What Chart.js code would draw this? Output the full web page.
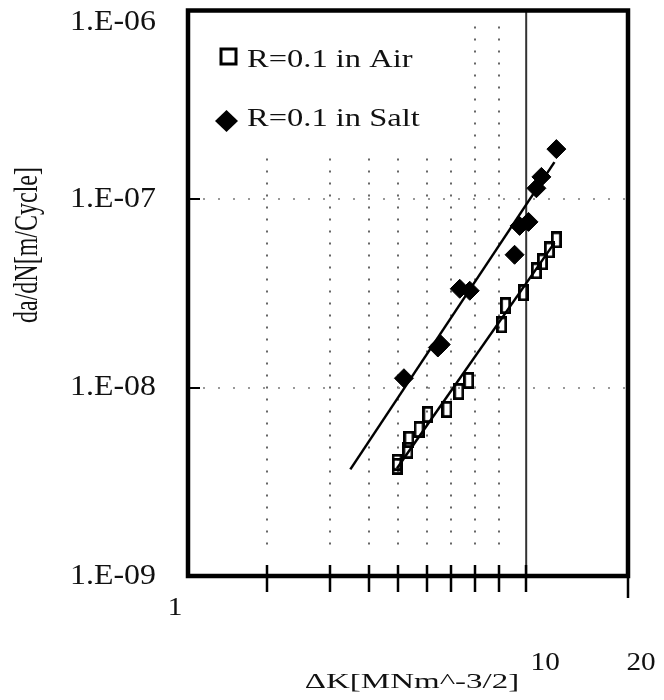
<!DOCTYPE html>
<html>
<head>
<meta charset="utf-8">
<script src="https://cdn.jsdelivr.net/npm/chart.js@4.4.0/dist/chart.umd.min.js"></script>
<style>
  html, body { margin: 0; padding: 0; background: #fff; overflow: hidden; }
  canvas { display: block; }
</style>
</head>
<body>
<canvas id="chart" width="664" height="700"></canvas>
<script>
// da/dN vs delta K, R = 0.1, air and salt water
const airDeltaK = [4.15, 4.15, 4.47, 4.50, 4.82, 5.12, 5.83, 6.32, 6.76, 8.46, 8.69, 9.82, 10.72, 11.17, 11.71, 12.28];
const airRate = [3.82e-9, 4.01e-9, 4.64e-9, 5.31e-9, 5.99e-9, 7.20e-9, 7.65e-9, 9.52e-9, 1.09e-8, 2.15e-8, 2.72e-8, 3.18e-8, 4.16e-8, 4.64e-8, 5.37e-8, 6.07e-8];
const saltDeltaK = [4.35, 5.48, 5.59, 6.36, 6.81, 9.24, 9.56, 10.16, 10.72, 11.09, 12.28];
const saltRate = [1.12e-8, 1.63e-8, 1.69e-8, 3.34e-8, 3.26e-8, 5.06e-8, 7.20e-8, 7.56e-8, 1.14e-7, 1.31e-7, 1.84e-7];

// fitted lines, end points only
const airFitK = [4.15, 12.12];
const airFitRate = [3.73e-9, 5.85e-8];
const saltFitK = [3.02, 12.12];
const saltFitRate = [3.68e-9, 1.57e-7];

const xLabelValues = [1, 10, 20];
const xMinorTicks = [1.71, 2.63, 3.43, 4.18, 5.09, 5.99, 7.06, 8.31];
const xMajorLine = 10;
const yTicks = [1e-6, 1e-7, 1e-8, 1e-9];
const yTickLabels = ['1.E-06', '1.E-07', '1.E-08', '1.E-09'];
const yGridLines = [1e-7, 1e-8];
const seriesNames = ['R=0.1 in Air', 'R=0.1 in Salt'];
const xTitle = 'ΔK[MNm^-3/2]';
const yTitle = 'da/dN[m/Cycle]';

const SERIF = '"Liberation Serif", "Times New Roman", serif';

// open tall rectangle used as the air marker
function rectMarker(w, h, lw) {
  const c = document.createElement('canvas');
  c.width = w; c.height = h;
  const g = c.getContext('2d');
  g.strokeStyle = '#000';
  g.lineWidth = lw;
  g.strokeRect(lw / 2, lw / 2, w - lw, h - lw);
  return c;
}

// serif text, widened by sx
function wideText(ctx, text, x, y, align, size, sx) {
  ctx.save();
  ctx.translate(x, y);
  ctx.scale(sx, 1);
  ctx.font = size + 'px ' + SERIF;
  ctx.textAlign = align;
  ctx.textBaseline = 'middle';
  ctx.fillStyle = '#111';
  ctx.fillText(text, 0, 0);
  ctx.restore();
}

const decorations = {
  id: 'decorations',
  beforeDatasetsDraw(chart) {
    const { ctx, chartArea: a, scales: { x, y } } = chart;
    ctx.save();
    // dotted verticals
    ctx.strokeStyle = '#666';
    ctx.lineWidth = 2;
    ctx.setLineDash([2, 10]);
    xMinorTicks.forEach(v => {
      const px = Math.round(x.getPixelForValue(v));
      ctx.beginPath();
      ctx.moveTo(px, a.top + 16);
      ctx.lineTo(px, a.bottom - 23);
      ctx.stroke();
    });
    // dotted horizontals
    ctx.strokeStyle = '#999';
    ctx.setLineDash([2, 13]);
    yGridLines.forEach(v => {
      const py = Math.round(y.getPixelForValue(v));
      ctx.beginPath();
      ctx.moveTo(a.left, py);
      ctx.lineTo(a.right, py);
      ctx.stroke();
    });
    ctx.setLineDash([]);

    // legend panel
    ctx.fillStyle = '#fff';
    ctx.fillRect(a.left + 2, a.top + 2, 266, 145);
    ctx.strokeStyle = '#000';
    ctx.lineWidth = 3;
    ctx.strokeRect(221, 49, 15, 15);
    ctx.fillStyle = '#000';
    ctx.beginPath();
    ctx.moveTo(215, 121);
    ctx.lineTo(226.5, 110);
    ctx.lineTo(238, 121);
    ctx.lineTo(226.5, 132);
    ctx.closePath();
    ctx.fill();
    wideText(ctx, seriesNames[0], 247, 60, 'left', 26, 1.25);
    wideText(ctx, seriesNames[1], 247, 119, 'left', 26, 1.25);

    // solid line at delta K = 10
    const p10 = x.getPixelForValue(xMajorLine);
    ctx.strokeStyle = '#333';
    ctx.lineWidth = 2;
    ctx.beginPath();
    ctx.moveTo(p10, a.top);
    ctx.lineTo(p10, a.bottom);
    ctx.stroke();
    ctx.restore();
  },
  afterDatasetsDraw(chart) {
    const { ctx, chartArea: a, scales: { x, y } } = chart;
    ctx.save();
    ctx.strokeStyle = '#000';
    // x ticks crossing the bottom edge
    ctx.lineWidth = 2.5;
    xMinorTicks.concat([xMajorLine]).forEach(v => {
      const px = Math.round(x.getPixelForValue(v));
      ctx.beginPath();
      ctx.moveTo(px, a.bottom - 11);
      ctx.lineTo(px, a.bottom + 16);
      ctx.stroke();
    });
    ctx.beginPath();
    ctx.moveTo(a.right, a.bottom);
    ctx.lineTo(a.right, a.bottom + 22);
    ctx.stroke();
    // short inner ticks on the y axis
    ctx.lineWidth = 2;
    yGridLines.forEach(v => {
      const py = Math.round(y.getPixelForValue(v));
      ctx.beginPath();
      ctx.moveTo(a.left, py);
      ctx.lineTo(a.left + 12, py);
      ctx.stroke();
    });
    // frame
    ctx.lineWidth = 4.5;
    ctx.strokeRect(a.left, a.top, a.right - a.left, a.bottom - a.top);

    // y tick labels
    yTicks.forEach((v, i) => {
      const py = Math.max(y.getPixelForValue(v), a.top + 12);
      wideText(ctx, yTickLabels[i], 156, py, 'right', 29, 1.1);
    });
    // x tick labels, set off from their ticks
    const shift = { 1: [-13, 32], 10: [19, 87], 20: [13, 87] };
    xLabelValues.forEach(v => {
      const [dx, dy] = shift[v];
      wideText(ctx, String(v), x.getPixelForValue(v) + dx, a.bottom + dy, 'center', 25, 1.17);
    });
    // axis titles
    wideText(ctx, xTitle, 412, 682, 'center', 22, 1.5);
    ctx.save();
    ctx.translate(28, 245);
    ctx.scale(1.4, 1);
    ctx.rotate(-Math.PI / 2);
    ctx.font = '24px ' + SERIF;
    ctx.textAlign = 'center';
    ctx.textBaseline = 'middle';
    ctx.fillStyle = '#111';
    ctx.fillText(yTitle, 0, 0);
    ctx.restore();
    ctx.restore();
  }
};

const toPoints = (xs, ys) => xs.map((v, i) => ({ x: v, y: ys[i] }));

new Chart(document.getElementById('chart'), {
  type: 'scatter',
  data: {
    datasets: [
      {
        label: seriesNames[1],
        data: toPoints(saltDeltaK, saltRate),
        pointStyle: 'rectRot',
        pointRadius: 9.5,
        backgroundColor: '#000',
        borderColor: '#000',
        borderWidth: 1,
        order: 0
      },
      {
        label: 'salt fit',
        data: toPoints(saltFitK, saltFitRate),
        showLine: true,
        borderColor: '#000',
        borderWidth: 2.5,
        pointRadius: 0,
        order: 1
      },
      {
        label: 'air fit',
        data: toPoints(airFitK, airFitRate),
        showLine: true,
        borderColor: '#000',
        borderWidth: 2.5,
        pointRadius: 0,
        order: 1
      },
      {
        label: seriesNames[0],
        data: toPoints(airDeltaK, airRate),
        pointStyle: rectMarker(11, 17, 2.8),
        pointRadius: 8,
        order: 2
      }
    ]
  },
  options: {
    responsive: false,
    animation: false,
    layout: { padding: { left: 188, right: 36, top: 9, bottom: 124 } },
    scales: {
      x: { type: 'logarithmic', min: 1, max: 20, display: false },
      y: { type: 'logarithmic', min: 1e-9, max: 1e-6, display: false }
    },
    plugins: {
      legend: { display: false },
      tooltip: { enabled: false }
    }
  },
  plugins: [decorations]
});
</script>
</body>
</html>
